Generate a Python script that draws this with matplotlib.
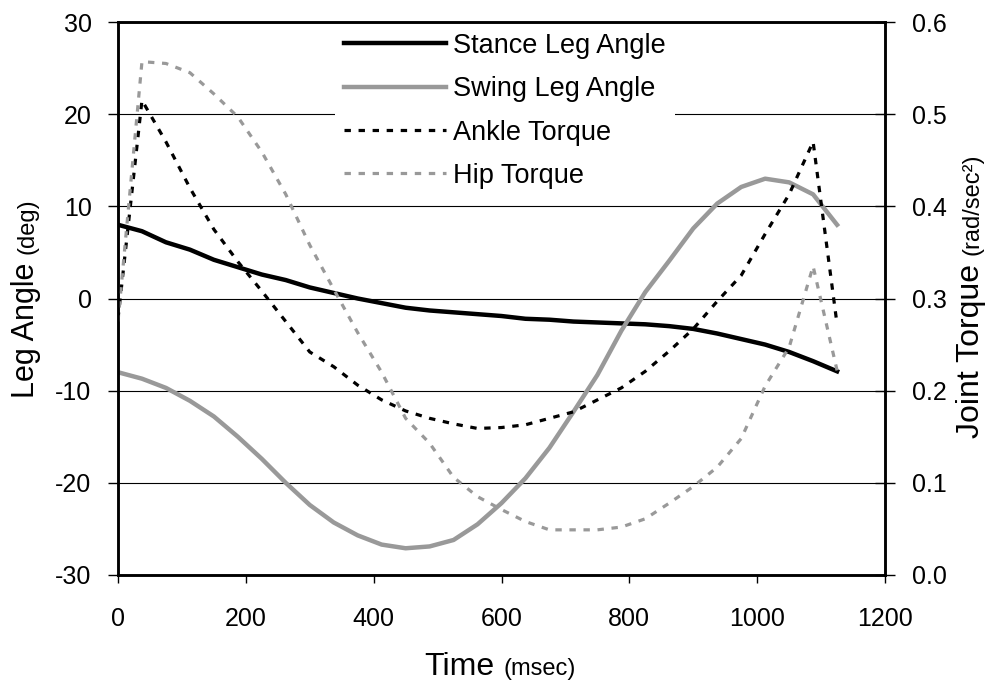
import matplotlib
matplotlib.use("Agg")
import matplotlib.pyplot as plt

plt.rcParams['font.family'] = ['Liberation Sans', 'DejaVu Sans']
plt.rcParams['axes.unicode_minus'] = False

W, H = 987, 682

# ---- data ----
time_ms = [0, 37.5, 75, 112.5, 150, 187.5, 225, 262.5, 300, 337.5, 375, 412.5,
           450, 487.5, 525, 562.5, 600, 637.5, 675, 712.5, 750, 787.5, 825,
           862.5, 900, 937.5, 975, 1012.5, 1050, 1087.5, 1125]
stance_deg = [8.0, 7.3, 6.1, 5.3, 4.2, 3.4, 2.6, 2.0, 1.2, 0.6, 0.0, -0.5,
              -1.0, -1.3, -1.5, -1.7, -1.9, -2.2, -2.3, -2.5, -2.6, -2.7, -2.8,
              -3.0, -3.3, -3.8, -4.4, -5.0, -5.8, -6.8, -7.9]
swing_deg = [-8.0, -8.7, -9.7, -11.1, -12.8, -15.0, -17.4, -20.0, -22.4, -24.3,
             -25.7, -26.7, -27.1, -26.9, -26.2, -24.5, -22.2, -19.5, -16.2,
             -12.3, -8.3, -3.5, 0.7, 4.1, 7.6, 10.3, 12.1, 13.0, 12.6, 11.3, 8.0]
ankle_torque = [0.278, 0.515, 0.470, 0.420, 0.375, 0.340, 0.308, 0.275, 0.242,
                0.226, 0.206, 0.190, 0.178, 0.170, 0.164, 0.159, 0.160, 0.163,
                0.170, 0.177, 0.190, 0.203, 0.221, 0.243, 0.267, 0.297, 0.325,
                0.370, 0.413, 0.470, 0.272]
hip_torque = [0.275, 0.557, 0.555, 0.545, 0.522, 0.497, 0.459, 0.413, 0.358,
              0.310, 0.263, 0.220, 0.170, 0.143, 0.106, 0.085, 0.071, 0.058,
              0.049, 0.049, 0.049, 0.052, 0.061, 0.078, 0.096, 0.117, 0.148,
              0.205, 0.247, 0.335, 0.222]

x_ticks = [0, 200, 400, 600, 800, 1000, 1200]
angle_ticks = [-30, -20, -10, 0, 10, 20, 30]
torque_ticks = [0.0, 0.1, 0.2, 0.3, 0.4, 0.5, 0.6]
# -------------------------------------

GREY = '#999999'
DASH = (0, (2.0, 2.4))

fig = plt.figure(figsize=(W / 100, H / 100), dpi=100)
ax1 = fig.add_axes([118 / W, 107 / H, 767 / W, 553 / H])
ax2 = ax1.twinx()

l1, = ax1.plot(time_ms, stance_deg, color='black', lw=3.2, label='Stance Leg Angle')
l2, = ax1.plot(time_ms, swing_deg, color=GREY, lw=3.2, label='Swing Leg Angle')
l3, = ax2.plot(time_ms, ankle_torque, color='black', lw=2.3, ls=DASH, label='Ankle Torque')
l4, = ax2.plot(time_ms, hip_torque, color=GREY, lw=2.3, ls=DASH, label='Hip Torque')

ax1.set_xlim(0, 1200)
ax1.set_ylim(-30, 30)
ax2.set_ylim(0, 0.6)
ax1.set_xticks(x_ticks)
ax1.set_yticks(angle_ticks)
ax2.set_yticks(torque_ticks)
ax2.set_yticklabels([f"{v:.1f}" for v in torque_ticks])

ax1.grid(axis='y', color='black', lw=0.8)
ax1.set_axisbelow(True)

ax1.tick_params(axis='y', direction='out', length=7, width=1, pad=12, labelsize=18)
ax1.tick_params(axis='x', direction='out', length=6, width=1, pad=17, labelsize=18)
ax2.tick_params(axis='y', direction='inout', length=15, width=1, pad=12, labelsize=18)

for ax in (ax1, ax2):
    for s in ax.spines.values():
        s.set_linewidth(1.8)

leg = ax2.legend([l1, l2, l3, l4], [l.get_label() for l in (l1, l2, l3, l4)],
                 loc='upper left', bbox_to_anchor=(0.283, 0.996), fontsize=19.5,
                 frameon=True, fancybox=False, framealpha=1, facecolor='white',
                 edgecolor='none', handlelength=3.76, handletextpad=0.28,
                 labelspacing=0.64, borderpad=0.32, borderaxespad=0)

# axis titles: big word + small unit, measured and centred on the axes
t_lx1 = fig.text(0, 0, "Leg Angle", fontsize=22, rotation=90, rotation_mode='anchor',
                 ha='left', va='baseline')
t_lx2 = fig.text(0, 0, "(deg)", fontsize=17, rotation=90, rotation_mode='anchor',
                 ha='left', va='baseline')
t_b1 = fig.text(0, 0, "Time", fontsize=23, ha='left', va='baseline')
t_b2 = fig.text(0, 0, "(msec)", fontsize=17, ha='left', va='baseline')
t_r1 = fig.text(0, 0, "Joint Torque", fontsize=23, rotation=90, rotation_mode='anchor',
                ha='left', va='baseline')
t_r2 = fig.text(0, 0, "(rad/sec²)", fontsize=17, rotation=90, rotation_mode='anchor',
                ha='left', va='baseline')

fig.canvas.draw()
r = fig.canvas.get_renderer()
gap = 9

def stack_vertical(a, b, x_px, centre_px):
    h1 = a.get_window_extent(r).height
    h2 = b.get_window_extent(r).height
    start = centre_px - (h1 + gap + h2) / 2
    a.set_position((x_px / W, start / H))
    b.set_position((x_px / W, (start + h1 + gap) / H))

def stack_horizontal(a, b, y_px, centre_px):
    w1 = a.get_window_extent(r).width
    w2 = b.get_window_extent(r).width
    start = centre_px - (w1 + gap + w2) / 2
    a.set_position((start / W, y_px / H))
    b.set_position(((start + w1 + gap) / W, y_px / H))

stack_vertical(t_lx1, t_lx2, 34, H - 298.5)
stack_vertical(t_r1, t_r2, 979, H - 296)
stack_horizontal(t_b1, t_b2, H - 675, 500)

fig.savefig("out.png", dpi=100)
